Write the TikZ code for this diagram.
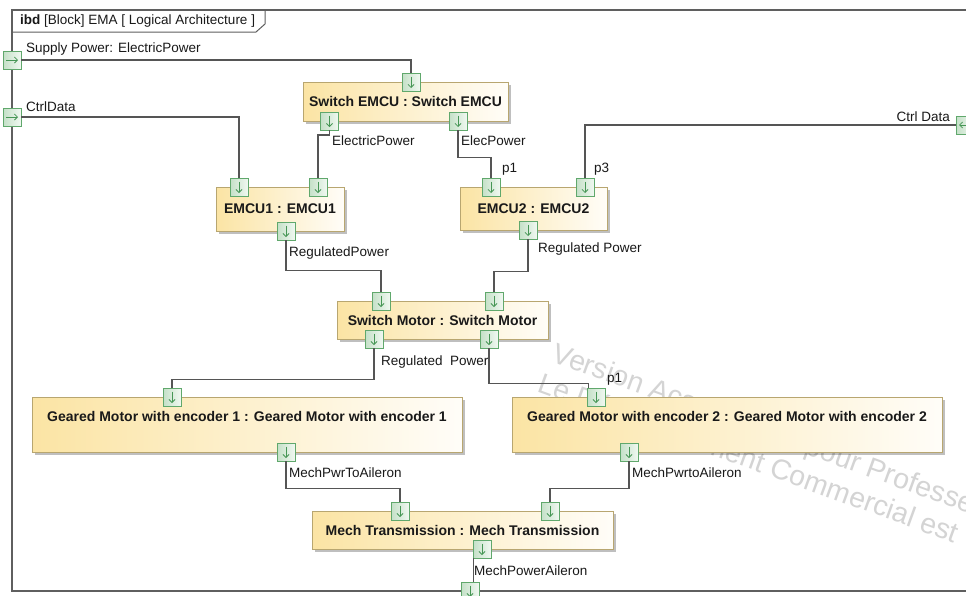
\documentclass[tikz,border=0pt]{standalone}
\usepackage{fontspec}
\setmainfont{Liberation Sans}
\usetikzlibrary{arrows.meta,shadows,calc}
\definecolor{blockL}{RGB}{251,228,164}
\definecolor{blockR}{RGB}{255,253,248}
\definecolor{blockB}{RGB}{184,166,112}
\definecolor{portL}{RGB}{196,224,199}
\definecolor{portR}{RGB}{240,248,241}
\definecolor{portB}{RGB}{96,168,108}
\definecolor{portA}{RGB}{70,150,85}
\definecolor{linecol}{RGB}{85,85,85}
\definecolor{framecol}{RGB}{95,95,95}
\definecolor{txt}{RGB}{25,25,25}
\definecolor{wm}{RGB}{212,212,212}
\tikzset{
  block/.style={draw=blockB, line width=1pt, left color=blockL, right color=blockR,
    font=\bfseries\fontsize{14}{16}\selectfont, text=txt, inner sep=0pt,
    drop shadow={shadow xshift=3pt, shadow yshift=-3pt, fill=black, opacity=0.25}},
  port/.style={draw=portB, line width=0.9pt, left color=portL, right color=portR,
    minimum size=18pt, inner sep=0pt},
  parrow/.style={draw=portA, line width=0.8pt, -{Straight Barb[length=3pt,width=6pt]}},
  pdown/.style={port, path picture={\draw[parrow] ([yshift=-3.5pt]path picture bounding box.north) -- ([yshift=3pt]path picture bounding box.south);}},
  pright/.style={port, path picture={\draw[parrow] ([xshift=3pt]path picture bounding box.west) -- ([xshift=-3pt]path picture bounding box.east);}},
  pleft/.style={port, path picture={\draw[parrow] ([xshift=-3pt]path picture bounding box.east) -- ([xshift=3pt]path picture bounding box.west);}},
  conn/.style={draw=linecol, line width=1.2pt},
  lbl/.style={font=\fontsize{13.5}{16}\selectfont, anchor=base west, inner sep=0pt, text=txt},
  wmark/.style={font=\fontsize{28.5}{30}\selectfont, text=wm, anchor=base west, inner sep=0pt, rotate=-20},
}
\begin{document}
\begin{tikzpicture}[x=1pt,y=-1pt]
\useasboundingbox (0,0) rectangle (966,595);
\fill[white] (0,0) rectangle (966,595);
% watermark
\begin{scope}
\clip (12,10) rectangle (966,591);
\node[wmark] (wm1) at (550.5,361) {Version Académique pour Professeurs};
\node[wmark] (wm2) at (536,391) {Le Développement Commercial est};
\end{scope}
% frame
\draw[framecol, line width=1.2pt] (12,10) rectangle (970,591);
\draw[framecol, line width=1pt] (12,32) -- (256,32) -- (265,24) -- (265,10);
\node[lbl, anchor=west] (title) at (20,21) {\textbf{ibd} [Block] EMA [ Logical Architecture ]};
% blocks
\node[block, minimum width=205pt, minimum height=39pt] (sw) at (405.5,101.5) {Switch EMCU : Switch EMCU};
\node[block, minimum width=128pt, minimum height=44pt] (e1) at (280,209) {EMCU1 : EMCU1};
\node[block, minimum width=147pt, minimum height=43pt] (e2) at (533.5,208.5) {EMCU2 : EMCU2};
\node[block, minimum width=211pt, minimum height=38pt] (sm) at (442.5,320) {Switch Motor : Switch Motor};
\node[block, minimum width=430pt, minimum height=55pt, text height=10pt, text depth=17pt] (g1) at (247,424.5) {Geared Motor with encoder 1 : Geared Motor with encoder 1};
\node[block, minimum width=430pt, minimum height=55pt, text height=10pt, text depth=17pt] (g2) at (727,424.5) {Geared Motor with encoder 2 : Geared Motor with encoder 2};
\node[block, minimum width=301pt, minimum height=38pt] (mt) at (462.5,530) {Mech Transmission : Mech Transmission};
% frame ports
\node[pright] (fsp) at (12,60) {};
\node[pright] (fcd) at (12,117) {};
\node[pleft] (fcdr) at (965,125) {};
\node[pdown] (fb) at (470,591) {};
% block ports
\node[pdown] (swT) at (411,82) {};
\node[pdown] (swBL) at (329.5,121) {};
\node[pdown] (swBR) at (458,121) {};
\node[pdown] (e1L) at (239,187) {};
\node[pdown] (e1R) at (318,187) {};
\node[pdown] (e1B) at (286,231) {};
\node[pdown] (e2p1) at (491,187) {};
\node[pdown] (e2p3) at (585,187) {};
\node[pdown] (e2B) at (528,230) {};
\node[pdown] (smTL) at (381,301) {};
\node[pdown] (smTR) at (494,301) {};
\node[pdown] (smBL) at (374,339) {};
\node[pdown] (smBR) at (489,339) {};
\node[pdown] (g1T) at (172,397) {};
\node[pdown] (g1B) at (286,452) {};
\node[pdown] (g2T) at (596,397) {};
\node[pdown] (g2B) at (629,452) {};
\node[pdown] (mtL) at (400,511) {};
\node[pdown] (mtR) at (550,511) {};
\node[pdown] (mtB) at (482,549) {};
% connectors
\draw[conn] (fsp.east) -| (swT.north);
\draw[conn] (fcd.east) -| (e1L.north);
\draw[conn] (swBL.south) -- ++(0,4.5) -| (e1R.north);
\draw[conn] (swBR.south) -- ++(0,27) -| (e2p1.north);
\draw[conn] (fcdr.west) -| (e2p3.north);
\draw[conn] (e1B.south) -- ++(0,30) -| (smTL.north);
\draw[conn] (e2B.south) -- ++(0,32) -| (smTR.north);
\draw[conn] (smBL.south) -- ++(0,31) -| (g1T.north);
\draw[conn] (smBR.south) -- ++(0,35) -| ([xshift=2pt]g2T.north west);
\draw[conn] (g1B.south) -- ++(0,27) -| (mtL.north);
\draw[conn] (g2B.south) -- ++(0,27) -| (mtR.north);
\draw[conn] ([xshift=1pt]mtB.south west) -- ([xshift=1pt]mtB.south west |- fb.north);
% labels
\node[lbl] (l1) at (26,52) {Supply Power: ElectricPower};
\node[lbl] (l2) at (26,111) {CtrlData};
\node[lbl] (l3) at (332,145) {ElectricPower};
\node[lbl] (l4) at (461,145) {ElecPower};
\node[lbl] (l5) at (502,172) {p1};
\node[lbl] (l6) at (594,172) {p3};
\node[lbl, anchor=base east] (l7) at (950,121) {Ctrl Data};
\node[lbl] (l8) at (289,256) {RegulatedPower};
\node[lbl] (l9) at (538,252) {Regulated Power};
\node[lbl] (l10) at (381,365) {Regulated\ \ Power};
\node[lbl] (l11) at (607,382) {p1};
\node[lbl] (l12) at (289,477) {MechPwrToAileron};
\node[lbl] (l13) at (632,477) {MechPwrtoAileron};
\node[lbl] (l14) at (474,575) {MechPowerAileron};
\end{tikzpicture}
\end{document}
